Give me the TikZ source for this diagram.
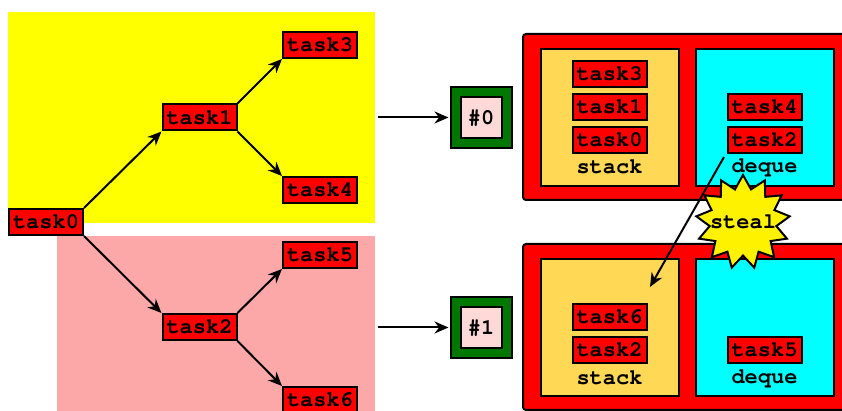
\documentclass[tikz,border=0pt]{standalone}
\usepackage[T1]{fontenc}
\usepackage{courier}
\usetikzlibrary{positioning, arrows.meta, shapes, calc}
\usepackage{xcolor}

\definecolor{treeyellow}{HTML}{FFFF00}
\definecolor{treepink}{HTML}{FCA8A8}
\definecolor{stackfill}{HTML}{FFD955}
\definecolor{dequecyan}{HTML}{00FFFF}
\definecolor{workergreen}{HTML}{007700}
\definecolor{workerpink}{HTML}{FFD8D8}

\tikzset{
  task/.style={draw, fill=red, line width=1pt, font=\ttfamily\bfseries\fontsize{11}{12}\selectfont, minimum width=37pt, minimum height=13pt, inner sep=0pt},
  qname/.style={font=\ttfamily\bfseries\fontsize{11}{12}\selectfont, inner sep=0pt},
  link/.style={-{Stealth[length=7pt, width=6pt]}, line width=1pt},
  worker/.style={draw, double=workergreen, double distance=4pt, line width=1pt, fill=workerpink, minimum size=25.5pt, inner sep=0pt, font=\ttfamily\bfseries\fontsize{11}{12}\selectfont},
  core/.style={draw, fill=red, line width=1pt, rounded corners=1.5pt},
  queue/.style={draw, line width=1pt},
}

\begin{document}
\begin{tikzpicture}[x=0.5pt, y=-0.5pt]
\useasboundingbox (0,0) rectangle (842,411);
\clip (0,0) rectangle (842,411);

% Task tree
\fill[treeyellow] (8,12) rectangle (375,223);
\fill[treepink] (57,236) rectangle (375,411);
\node[task] (t0) at (46,222) {task0};
\node[task] (t1) at (199.5,117.5) {task1};
\node[task] (t2) at (199.5,327) {task2};
\node[task] (t3) at (320,45) {task3};
\node[task] (t4) at (320,190) {task4};
\node[task] (t5) at (320,255) {task5};
\node[task] (t6) at (320,400) {task6};
\draw[link] (t0.north east) -- (t1.south west);
\draw[link] (t0.south east) -- (t2.north west);
\draw[link] (t1.north east) -- (t3.south west);
\draw[link] (t1.south east) -- (t4.north west);
\draw[link] (t2.north east) -- (t5.south west);
\draw[link] (t2.south east) -- (t6.north west);

% Workers
\node[worker] (w0) at (481,117.5) {\#0};
\node[worker] (w1) at (481,327.5) {\#1};
\coordinate (g0) at (378,117.5);
\coordinate (g1) at (378,327.5);
\draw[link, shorten >=3pt] (g0) -- (w0.west);
\draw[link, shorten >=3pt] (g1) -- (w1.west);

% Core #0
\draw[core] (523,34) rectangle (853,200);
\draw[queue, fill=stackfill] (541,49) rectangle (679,186);
\draw[queue, fill=dequecyan] (696,49) rectangle (834,186);
\node[task] (s0t3) at (609.5,74) {task3};
\node[task] (s0t1) at (609.5,107) {task1};
\node[task] (s0t0) at (609.5,140) {task0};
\node[qname] (s0) at (609.5,167) {stack};
\node[task] (d0t4) at (764.5,107) {task4};
\node[task] (d0t2) at (764.5,140) {task2};
\node[qname] (d0) at (764.5,167) {deque};

% Core #1
\draw[core] (523,244) rectangle (853,410);
\draw[queue, fill=stackfill] (541,259) rectangle (679,396);
\draw[queue, fill=dequecyan] (696,259) rectangle (834,396);
\node[task] (s1t6) at (609.5,317) {task6};
\node[task] (s1t2) at (609.5,350) {task2};
\node[qname] (s1) at (609.5,378) {stack};
\node[task] (d1t5) at (764.5,350) {task5};
\node[qname] (d1) at (764.5,378) {deque};

% Steal
\coordinate (from) at (724,157);
\coordinate (into) at (650,287);
\draw[link] (from) -- (into);
\node[star, star points=13, star point ratio=1.4, draw, fill=yellow, line width=1pt, inner sep=0pt, minimum size=47pt, label={[qname]center:steal}] (steal) at (743,222) {};
\end{tikzpicture}
\end{document}
